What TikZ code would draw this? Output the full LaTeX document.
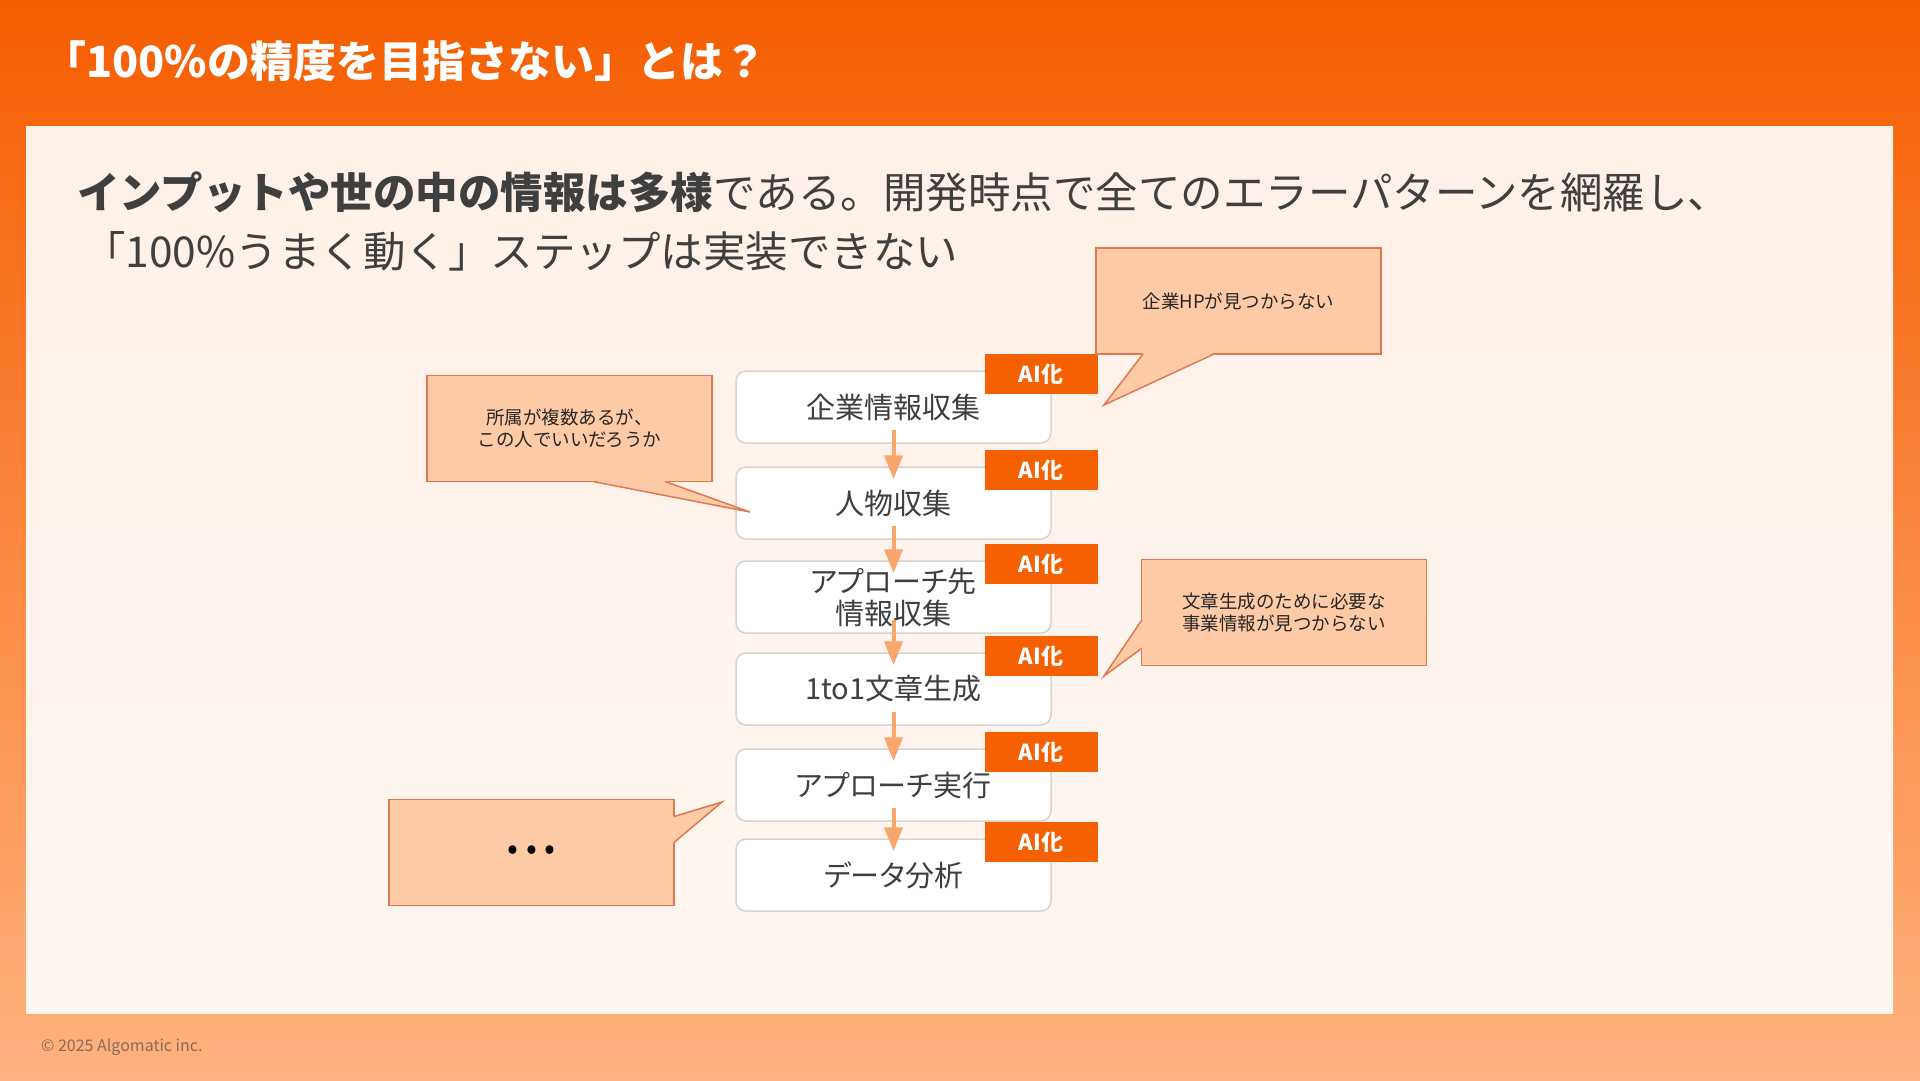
\documentclass[tikz,border=0pt]{standalone}
\usepackage{fontspec}
\setmainfont{Noto Sans CJK JP}
\newfontfamily\stepfont[RawFeature=+palt]{Noto Sans CJK JP}
\usetikzlibrary{positioning,calc,arrows.meta}
\definecolor{hdorange}{HTML}{F55D00}
\definecolor{bgpeach}{HTML}{FFB27F}
\definecolor{panelcream}{HTML}{FDF0E7}
\definecolor{panellight}{HTML}{FFF6F1}
\definecolor{calloutfill}{HTML}{FFCBA6}
\definecolor{calloutline}{HTML}{E07850}
\definecolor{tagorange}{HTML}{F56000}
\definecolor{flowarrow}{HTML}{F8A66C}
\definecolor{boxline}{HTML}{D8D2CE}
\definecolor{textgray}{HTML}{3F3F3F}
\definecolor{footgray}{HTML}{8B6B58}

\tikzset{
	stepbox/.style={draw=boxline, line width=1.5pt, fill=white, rounded corners=10pt,
		minimum width=315pt, minimum height=72pt, align=center, text=textgray,
		font=\stepfont\fontsize{29}{32}\selectfont},
	aitag/.style={fill=tagorange, minimum width=113pt, minimum height=40pt, inner sep=0pt,
		text=white, font=\bfseries\fontsize{22}{24}\selectfont},
	flowline/.style={draw=flowarrow, line width=4pt, -{Triangle[length=24pt,width=18pt]}},
	callout/.style={fill=calloutfill, draw=calloutline, line width=1.5pt, outer sep=0pt,
		minimum width=285pt, minimum height=106pt, align=center, text=black!85,
		font=\fontsize{18.5}{22}\selectfont},
	pointerside/.style={draw=calloutline, line width=1.5pt, line join=miter}
}

\begin{document}
\begin{tikzpicture}[x=1pt, y=-1pt]
	\useasboundingbox (0,0) rectangle (1920,1080);
	\shade[top color=hdorange, bottom color=bgpeach] (0,0) rectangle (1920,1080);
	\shade[top color=panelcream, bottom color=panellight] (26,126) rectangle (1893,1013);

	\node[anchor=west, inner sep=0pt, text=white, font=\bfseries\fontsize{43}{48}\selectfont] (title) at (43,61) {「100\%の精度を目指さない」とは？};
	\node[anchor=west, inner sep=0pt, text=textgray, font=\fontsize{42.5}{48}\selectfont] (lead1) at (77,192) {{\bfseries インプットや世の中の情報は多様}である。開発時点で全てのエラーパターンを網羅し、};
	\node[anchor=west, inner sep=0pt, text=textgray, font=\fontsize{42.5}{48}\selectfont] (lead2) at (83,251) {「100\%うまく動く」ステップは実装できない};

	\node[stepbox] (corp) at (893.5,407) {企業情報収集};
	\node[stepbox, below=22.5pt of corp] (person) {人物収集};
	\node[stepbox, below=20.5pt of person] (target) {アプローチ先\\情報収集};
	\node[stepbox, below=18.5pt of target] (letter) {1to1文章生成};
	\node[stepbox, below=22.5pt of letter] (action) {アプローチ実行};
	\node[stepbox, below=16.5pt of action] (analysis) {データ分析};

	\foreach \a/\b in {corp/person, person/target, target/letter, letter/action, action/analysis}
		\draw[flowline] ([yshift=14pt]\a.south) -- ([yshift=-13pt]\b.north);

	\foreach \b [count=\i] in {corp, person, target, letter, action, analysis}
		\node[aitag, anchor=north east] (tag\i) at ([xshift=46pt,yshift=16pt]\b.north east) {AI化};

	\node[callout] (hpnote) at (1238.5,301) {企業HPが見つからない};
	\coordinate (hptip) at (1104,405);
	\fill[calloutfill] ($(hpnote.south west)+(47,-1)$) -- (hptip) -- ($(hpnote.south west)+(118,-1)$) -- cycle;
	\draw[pointerside] ($(hpnote.south west)+(47,0)$) -- (hptip) -- ($(hpnote.south west)+(118,0)$);

	\node[callout] (affnote) at (569.5,428.5) {所属が複数あるが、\\この人でいいだろうか};
	\coordinate (afftip) at (750,512);
	\fill[calloutfill] ($(affnote.south west)+(166,-1)$) -- (afftip) -- ($(affnote.south west)+(238,-1)$) -- cycle;
	\draw[pointerside] ($(affnote.south west)+(166,0)$) -- (afftip) -- ($(affnote.south west)+(238,0)$);

	\node[callout] (bizinfo) at (1284,612.5) {文章生成のために必要な\\事業情報が見つからない};
	\coordinate (biztip) at (1104,676);
	\fill[calloutfill] ($(bizinfo.north west)+(1,61)$) -- (biztip) -- ($(bizinfo.north west)+(1,89)$) -- cycle;
	\draw[pointerside] ($(bizinfo.north west)+(0,61)$) -- (biztip) -- ($(bizinfo.north west)+(0,89)$);

	\node[callout, font=\fontsize{32}{32}\selectfont, text=black] (morenote) at (531.5,852.5) {•\hspace{8pt}•\hspace{8pt}•};
	\coordinate (moretip) at (722,802);
	\fill[calloutfill] ($(morenote.north east)+(-1,17)$) -- (moretip) -- ($(morenote.north east)+(-1,43)$) -- cycle;
	\draw[pointerside] ($(morenote.north east)+(0,17)$) -- (moretip) -- ($(morenote.north east)+(0,43)$);

	\node[anchor=west, inner sep=0pt, text=footgray, font=\fontsize{16}{18}\selectfont] (copyright) at (41,1047) {© 2025 Algomatic inc.};
\end{tikzpicture}
\end{document}
